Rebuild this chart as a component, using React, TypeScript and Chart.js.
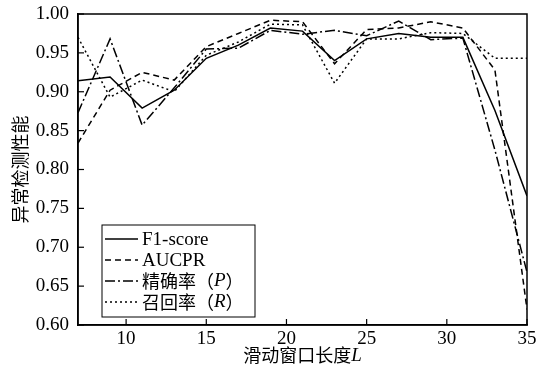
import React, { useEffect, useRef } from "react";
import { Chart, registerables } from "chart.js";

Chart.register(...registerables);

const windowLengths = [7, 9, 11, 13, 15, 17, 19, 21, 23, 25, 27, 29, 31, 33, 35];
const f1Score = [0.914, 0.919, 0.879, 0.902, 0.943, 0.96, 0.982, 0.978, 0.94, 0.968, 0.975, 0.97, 0.97, 0.876, 0.766];
const aucpr = [0.834, 0.902, 0.925, 0.915, 0.958, 0.975, 0.992, 0.99, 0.936, 0.98, 0.982, 0.99, 0.982, 0.928, 0.62];
const precision = [0.873, 0.968, 0.857, 0.905, 0.955, 0.956, 0.979, 0.974, 0.979, 0.972, 0.991, 0.967, 0.969, 0.825, 0.668];
const recall = [0.97, 0.893, 0.915, 0.9, 0.947, 0.964, 0.987, 0.986, 0.911, 0.968, 0.968, 0.976, 0.975, 0.943, 0.943];
const xTickValues = [10, 15, 20, 25, 30, 35];
const yMin = 0.6;
const yMax = 1.0;

const legendItems = [
  { label: ["F1-score"], italic: "", tail: "", dash: [] as number[] },
  { label: ["AUCPR"], italic: "", tail: "", dash: [6, 4] },
  { label: ["精确率（"], italic: "P", tail: "）", dash: [10, 3, 2, 3] },
  { label: ["召回率（"], italic: "R", tail: "）", dash: [2, 3] },
];

const SERIF = '"Liberation Serif", "Times New Roman", serif';
const CJK = '"Noto Sans CJK SC", sans-serif';

const mk = (vals: number[]) => vals.map((v, i) => ({ x: windowLengths[i], y: v }));

export default function App() {
  const ref = useRef<HTMLCanvasElement | null>(null);
  useEffect(() => {
    if (!ref.current) return;
    const decor = {
      id: "decor",
      afterDraw(chart: any) {
        const ctx = chart.ctx as CanvasRenderingContext2D;
        const a = chart.chartArea;
        const xs = chart.scales.x;
        const ys = chart.scales.y;
        ctx.save();
        ctx.strokeStyle = "#000";
        ctx.lineWidth = 1.5;
        ctx.setLineDash([]);
        ctx.strokeRect(a.left, a.top, a.right - a.left, a.bottom - a.top);
        ctx.lineWidth = 1.2;
        ys.ticks.forEach((t: any) => {
          const y = ys.getPixelForValue(t.value);
          ctx.beginPath();
          ctx.moveTo(a.left, y);
          ctx.lineTo(a.left + 6, y);
          ctx.stroke();
        });
        xs.ticks.forEach((t: any) => {
          const x = xs.getPixelForValue(t.value);
          ctx.beginPath();
          ctx.moveTo(x, a.bottom);
          ctx.lineTo(x, a.bottom - 6);
          ctx.stroke();
        });
        // legend
        const lx = 102, ly = 225, lw = 153, lh = 92;
        ctx.fillStyle = "#fff";
        ctx.fillRect(lx, ly, lw, lh);
        ctx.lineWidth = 1;
        ctx.strokeRect(lx, ly, lw, lh);
        const rows = [239, 260, 281, 302];
        legendItems.forEach((it, i) => {
          const y = rows[i];
          ctx.lineWidth = 1.5;
          ctx.setLineDash(it.dash);
          ctx.beginPath();
          ctx.moveTo(105, y);
          ctx.lineTo(138, y);
          ctx.stroke();
          ctx.setLineDash([]);
          ctx.fillStyle = "#000";
          ctx.textBaseline = "middle";
          ctx.textAlign = "left";
          let x = 142;
          const txt = it.label[0];
          if (it.italic) {
            ctx.font = "18px " + CJK;
            ctx.fillText(txt, x, y);
            x += ctx.measureText(txt).width;
            ctx.font = "italic 19px " + SERIF;
            ctx.fillText(it.italic, x, y);
            x += ctx.measureText(it.italic).width;
            ctx.font = "18px " + CJK;
            ctx.fillText(it.tail, x, y);
          } else {
            ctx.font = "19px " + SERIF;
            ctx.fillText(txt, x, y + 1);
          }
        });
        // axis titles
        ctx.fillStyle = "#000";
        ctx.textBaseline = "middle";
        const xt = "滑动窗口长度";
        ctx.font = "18px " + CJK;
        const w1 = ctx.measureText(xt).width;
        ctx.font = "italic 19px " + SERIF;
        const w2 = ctx.measureText("L").width;
        const cx = (a.left + a.right) / 2;
        const sx = cx - (w1 + w2) / 2;
        ctx.textAlign = "left";
        ctx.font = "18px " + CJK;
        ctx.fillText(xt, sx, 355);
        ctx.font = "italic 19px " + SERIF;
        ctx.fillText("L", sx + w1, 356);
        ctx.save();
        ctx.translate(20, (a.top + a.bottom) / 2);
        ctx.rotate(-Math.PI / 2);
        ctx.textAlign = "center";
        ctx.font = "18px " + CJK;
        ctx.fillText("异常检测性能", 0, 0);
        ctx.restore();
        ctx.restore();
      },
    };
    const common = { borderColor: "#000", borderWidth: 1.5, pointRadius: 0, tension: 0, fill: false };
    const chart = new Chart(ref.current, {
      type: "line",
      data: {
        datasets: [
          { ...common, label: "F1-score", data: mk(f1Score), borderDash: [] },
          { ...common, label: "AUCPR", data: mk(aucpr), borderDash: [6, 4] },
          { ...common, label: "精确率（P）", data: mk(precision), borderDash: [10, 3, 2, 3] },
          { ...common, label: "召回率（R）", data: mk(recall), borderDash: [2, 3] },
        ],
      },
      options: {
        responsive: false,
        animation: false,
        layout: { padding: { top: 14, right: 9, left: 0, bottom: 0 } },
        plugins: { legend: { display: false }, tooltip: { enabled: false } },
        scales: {
          x: {
            type: "linear",
            min: 7,
            max: 35,
            afterBuildTicks: (axis: any) => {
              axis.ticks = xTickValues.map((v) => ({ value: v }));
            },
            afterFit: (axis: any) => {
              axis.height = 47;
              axis.paddingRight = 0;
              axis.paddingLeft = 0;
            },
            grid: { display: true, drawOnChartArea: false, drawTicks: false },
            border: { display: true, color: "#000", width: 1.5 },
            ticks: { color: "#000", font: { family: SERIF, size: 19 }, padding: 3, maxRotation: 0 },
          },
          y: {
            type: "linear",
            min: yMin,
            max: yMax,
            afterFit: (axis: any) => {
              axis.width = 78;
              axis.paddingTop = 0;
              axis.paddingBottom = 0;
            },
            grid: { display: true, drawOnChartArea: false, drawTicks: false },
            border: { display: true, color: "#000", width: 1.5 },
            ticks: {
              stepSize: 0.05,
              color: "#000",
              font: { family: SERIF, size: 19 },
              padding: 9,
              callback: (v: any) => Number(v).toFixed(2),
            },
          },
        },
      },
      plugins: [decor],
    } as any);
    return () => chart.destroy();
  }, []);
  return (
    <div style={{ position: "absolute", left: 0, top: 0, width: 536, height: 372, background: "#fff" }}>
      <canvas ref={ref} width={536} height={372} style={{ width: 536, height: 372, display: "block" }} />
    </div>
  );
}
